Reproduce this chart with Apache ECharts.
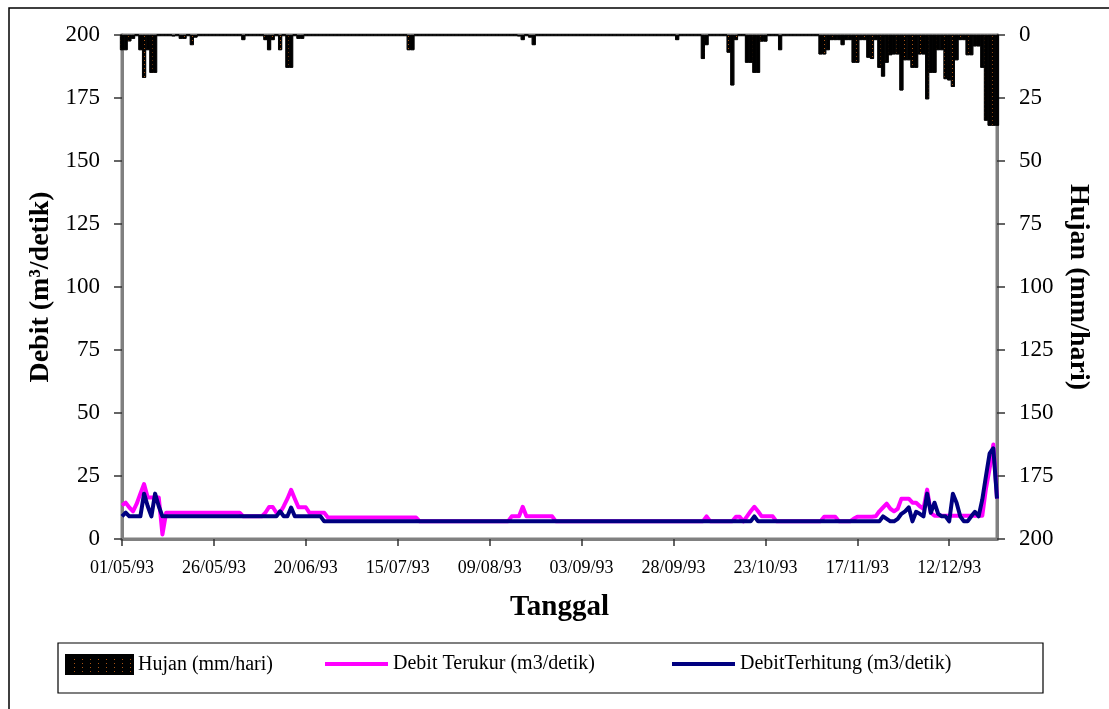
<!DOCTYPE html>
<html>
<head>
<meta charset="utf-8">
<title>Debit dan Hujan 1993</title>
<script src="https://cdn.jsdelivr.net/npm/echarts@6/dist/echarts.min.js"></script>
<style>
  html, body { margin: 0; padding: 0; background: #ffffff; }
  #chart { width: 1109px; height: 709px; }
</style>
</head>
<body>
<div id="chart"></div>
<script>
// Daily record from 01/05/1993, one value per day (239 days)
const startYear = 1993, startMonth = 5, startDay = 1, dayCount = 239;

// Hujan (mm/hari) - daily rainfall, plotted on the inverted right axis
const hujan = [
  6, 6, 2.5, 1.5, 0, 6, 17, 6, 15, 15,
  0, 0, 0, 0, 0.5, 0, 1.5, 1.5, 0, 4,
  1, 0, 0, 0, 0, 0, 0, 0, 0, 0,
  0, 0, 0, 2, 0, 0, 0, 0, 0, 2,
  6, 2, 0, 6, 0, 13, 13, 0, 1.5, 1.5,
  0, 0, 0, 0, 0, 0, 0, 0, 0, 0,
  0, 0, 0, 0, 0, 0, 0, 0, 0, 0,
  0, 0, 0, 0, 0, 0, 0, 0, 6, 6,
  0, 0, 0, 0, 0, 0, 0, 0, 0, 0,
  0, 0, 0, 0, 0, 0, 0, 0, 0, 0,
  0, 0, 0, 0, 0, 0, 0, 0, 0.5, 2,
  0, 1, 4, 0, 0, 0, 0, 0, 0, 0,
  0, 0, 0, 0, 0, 0, 0, 0, 0, 0,
  0, 0, 0, 0, 0, 0, 0, 0, 0, 0,
  0, 0, 0, 0, 0, 0, 0, 0, 0, 0,
  0, 2, 0, 0, 0, 0, 0, 0, 9.5, 4,
  0, 0, 0, 0, 0, 7, 20, 2, 0, 0,
  11, 11, 15, 15, 2.6, 2.6, 0, 0, 0, 6,
  0, 0, 0, 0, 0, 0, 0, 0, 0, 0,
  7.7, 7.7, 6, 2, 2, 2, 4, 2, 2, 11,
  11, 2, 2, 9, 9.5, 2, 13, 16.5, 11, 8,
  7.7, 7.7, 22, 10, 10, 13, 13, 7.7, 7.7, 25.5,
  15, 15, 6, 6, 17.5, 18, 20.6, 10, 2, 2,
  8, 8, 4.5, 4.5, 13, 34, 36, 36, 36
];

// Debit Terukur (m3/detik) - measured discharge
const debitTerukur = [
  13.3, 14.4, 12.5, 11, 14, 18, 21.8, 16.5, 16.5, 16.5,
  16.5, 1.8, 10.4, 10.4, 10.4, 10.4, 10.4, 10.4, 10.4, 10.4,
  10.4, 10.4, 10.4, 10.4, 10.4, 10.4, 10.4, 10.4, 10.4, 10.4,
  10.4, 10.4, 10.4, 9, 9, 9, 9, 9, 9, 10.4,
  12.7, 12.7, 10.4, 10.4, 13, 16, 19.5, 16, 12.6, 12.6,
  12.6, 10.4, 10.4, 10.4, 10.4, 10.4, 8.5, 8.5, 8.5, 8.5,
  8.5, 8.5, 8.5, 8.5, 8.5, 8.5, 8.5, 8.5, 8.5, 8.5,
  8.5, 8.5, 8.5, 8.5, 8.5, 8.5, 8.5, 8.5, 8.5, 8.5,
  8.5, 7, 7, 7, 7, 7, 7, 7, 7, 7,
  7, 7, 7, 7, 7, 7, 7, 7, 7, 7,
  7, 7, 7, 7, 7, 7, 9, 9, 9, 12.8,
  9, 9, 9, 9, 9, 9, 9, 9, 7, 7,
  7, 7, 7, 7, 7, 7, 7, 7, 7, 7,
  7, 7, 7, 7, 7, 7, 7, 7, 7, 7,
  7, 7, 7, 7, 7, 7, 7, 7, 7, 7,
  7, 7, 7, 7, 7, 7, 7, 7, 7, 9,
  7, 7, 7, 7, 7, 7, 7, 8.8, 8.8, 7,
  9, 11, 12.8, 11, 9, 9, 9, 9, 7, 7,
  7, 7, 7, 7, 7, 7, 7, 7, 7, 7,
  7, 8.8, 8.8, 8.8, 8.8, 7, 7, 7, 7, 8,
  8.8, 8.8, 8.8, 8.8, 8.8, 9, 11, 12.5, 14, 12,
  11, 12, 16, 16, 16, 14.4, 14.4, 13, 12, 19.6,
  10.4, 9.2, 9.2, 9.2, 9.2, 9.2, 9.2, 9.2, 9.2, 9.2,
  9.2, 9.2, 9.2, 9.2, 9.2, 20, 28, 37.5, 16
];

// Debit Terhitung (m3/detik) - computed discharge
const debitTerhitung = [
  9, 10.5, 9, 9, 9, 9, 18, 13, 9, 18,
  13, 9, 9, 9, 9, 9, 9, 9, 9, 9,
  9, 9, 9, 9, 9, 9, 9, 9, 9, 9,
  9, 9, 9, 9, 9, 9, 9, 9, 9, 9,
  9, 9, 9, 11, 9, 9, 12.5, 9, 9, 9,
  9, 9, 9, 9, 9, 7, 7, 7, 7, 7,
  7, 7, 7, 7, 7, 7, 7, 7, 7, 7,
  7, 7, 7, 7, 7, 7, 7, 7, 7, 7,
  7, 7, 7, 7, 7, 7, 7, 7, 7, 7,
  7, 7, 7, 7, 7, 7, 7, 7, 7, 7,
  7, 7, 7, 7, 7, 7, 7, 7, 7, 7,
  7, 7, 7, 7, 7, 7, 7, 7, 7, 7,
  7, 7, 7, 7, 7, 7, 7, 7, 7, 7,
  7, 7, 7, 7, 7, 7, 7, 7, 7, 7,
  7, 7, 7, 7, 7, 7, 7, 7, 7, 7,
  7, 7, 7, 7, 7, 7, 7, 7, 7, 7,
  7, 7, 7, 7, 7, 7, 7, 7, 7, 7,
  7, 7, 9, 7, 7, 7, 7, 7, 7, 7,
  7, 7, 7, 7, 7, 7, 7, 7, 7, 7,
  7, 7, 7, 7, 7, 7, 7, 7, 7, 7,
  7, 7, 7, 7, 7, 7, 7, 9, 8, 7,
  7, 8, 10, 11, 12.6, 7, 10.8, 10, 9, 18,
  10.4, 14.4, 10, 9, 9, 7, 18, 14.4, 9, 7,
  7, 9, 10.8, 9, 15.7, 25, 34, 36, 16
];

// Axis ranges and labels
const debitAxis = { min: 0, max: 200, interval: 25 };
const hujanAxis = { min: 0, max: 200, interval: 25 };
const labelEvery = 25;
const seriesNames = ['Hujan (mm/hari)', 'Debit Terukur (m3/detik)', 'DebitTerhitung (m3/detik)'];
const axisTitles = { left: 'Debit (m\u00B3/detik)', right: 'Hujan (mm/hari)', bottom: 'Tanggal' };

// Date categories dd/mm/yy
const pad2 = n => (n < 10 ? '0' : '') + n;
const tanggal = [];
for (let i = 0; i < dayCount; i++) {
  const d = new Date(Date.UTC(startYear, startMonth - 1, startDay + i));
  tanggal.push(pad2(d.getUTCDate()) + '/' + pad2(d.getUTCMonth() + 1) + '/' + String(d.getUTCFullYear()).slice(2));
}

const SERIF = '"Liberation Serif", "Times New Roman", serif';
const frameGray = '#808080';

const chart = echarts.init(document.getElementById('chart'), null, { renderer: 'canvas' });

const legendText = { fontFamily: SERIF, fontSize: 20, color: '#000' };

chart.setOption({
  backgroundColor: '#ffffff',
  animation: false,
  grid: {
    left: 122, right: 112, top: 35, bottom: 170,
    show: true, borderColor: frameGray, borderWidth: 3,
    outerBoundsMode: 'none'
  },
  legend: [
    {
      data: [seriesNames[0]], left: 65, top: 654, padding: 0,
      icon: 'rect', itemWidth: 67, itemHeight: 19,
      selectedMode: false, textStyle: legendText
    },
    {
      data: [seriesNames[1]], left: 325, top: 654, padding: 0,
      icon: 'rect', itemWidth: 63, itemHeight: 4,
      selectedMode: false, textStyle: legendText
    },
    {
      data: [seriesNames[2]], left: 672, top: 654, padding: 0,
      icon: 'rect', itemWidth: 63, itemHeight: 4,
      selectedMode: false, textStyle: legendText
    }
  ],
  xAxis: {
    type: 'category',
    data: tanggal,
    boundaryGap: false,
    axisLine: { show: true, lineStyle: { color: frameGray, width: 3 } },
    axisTick: { show: true, interval: labelEvery - 1, length: 7, lineStyle: { color: '#333', width: 1.5 } },
    axisLabel: { interval: labelEvery - 1, margin: 20, fontFamily: SERIF, fontSize: 18, color: '#000' },
    splitLine: { show: false },
    name: axisTitles.bottom,
    nameLocation: 'middle',
    nameGap: 54,
    nameTextStyle: { fontFamily: SERIF, fontSize: 29, fontWeight: 'bold', color: '#000' }
  },
  yAxis: [
    {
      type: 'value',
      position: 'left',
      min: debitAxis.min, max: debitAxis.max, interval: debitAxis.interval,
      axisLine: { show: true, lineStyle: { color: frameGray, width: 3 } },
      axisTick: { show: true, length: 8, lineStyle: { color: '#333', width: 1.5 } },
      axisLabel: { margin: 22, fontFamily: SERIF, fontSize: 23, color: '#000' },
      splitLine: { show: false },
      name: axisTitles.left,
      nameLocation: 'middle',
      nameRotate: 90,
      nameGap: 62,
      nameTextStyle: { fontFamily: SERIF, fontSize: 28, fontWeight: 'bold', color: '#000' }
    },
    {
      type: 'value',
      position: 'right',
      inverse: true,
      min: hujanAxis.min, max: hujanAxis.max, interval: hujanAxis.interval,
      axisLine: { show: true, lineStyle: { color: frameGray, width: 3 } },
      axisTick: { show: true, length: 8, lineStyle: { color: '#333', width: 1.5 } },
      axisLabel: { margin: 22, fontFamily: SERIF, fontSize: 23, color: '#000' },
      splitLine: { show: false },
      name: axisTitles.right,
      nameLocation: 'middle',
      nameRotate: -90,
      nameGap: 66,
      nameTextStyle: { fontFamily: SERIF, fontSize: 28, fontWeight: 'bold', color: '#000' }
    }
  ],
  series: [
    {
      name: seriesNames[0],
      type: 'bar',
      yAxisIndex: 1,
      data: hujan,
      barWidth: 4,
      itemStyle: {
        color: '#000000',
        borderColor: '#000000',
        borderWidth: 0.8,
        decal: {
          symbol: 'rect', symbolSize: 1, color: '#a85414',
          dashArrayX: [1, 7], dashArrayY: [1, 3], rotation: 0
        }
      },
      z: 1
    },
    {
      name: seriesNames[1],
      type: 'line',
      yAxisIndex: 0,
      data: debitTerukur,
      symbol: 'none',
      color: '#FF00FF',
      lineStyle: { color: '#FF00FF', width: 4, join: 'round' },
      z: 2
    },
    {
      name: seriesNames[2],
      type: 'line',
      yAxisIndex: 0,
      data: debitTerhitung,
      symbol: 'none',
      color: '#000080',
      lineStyle: { color: '#000080', width: 4, join: 'round' },
      z: 3
    }
  ],
  graphic: [
    {
      type: 'rect', silent: true, z: -1,
      shape: { x: 9, y: 8, width: 1200, height: 800 },
      style: { fill: 'none', stroke: '#000', lineWidth: 1.5 }
    },
    {
      type: 'rect', silent: true, z: -1,
      shape: { x: 58, y: 643, width: 985, height: 50 },
      style: { fill: 'none', stroke: '#000', lineWidth: 1.2 }
    }
  ]
});
</script>
</body>
</html>
